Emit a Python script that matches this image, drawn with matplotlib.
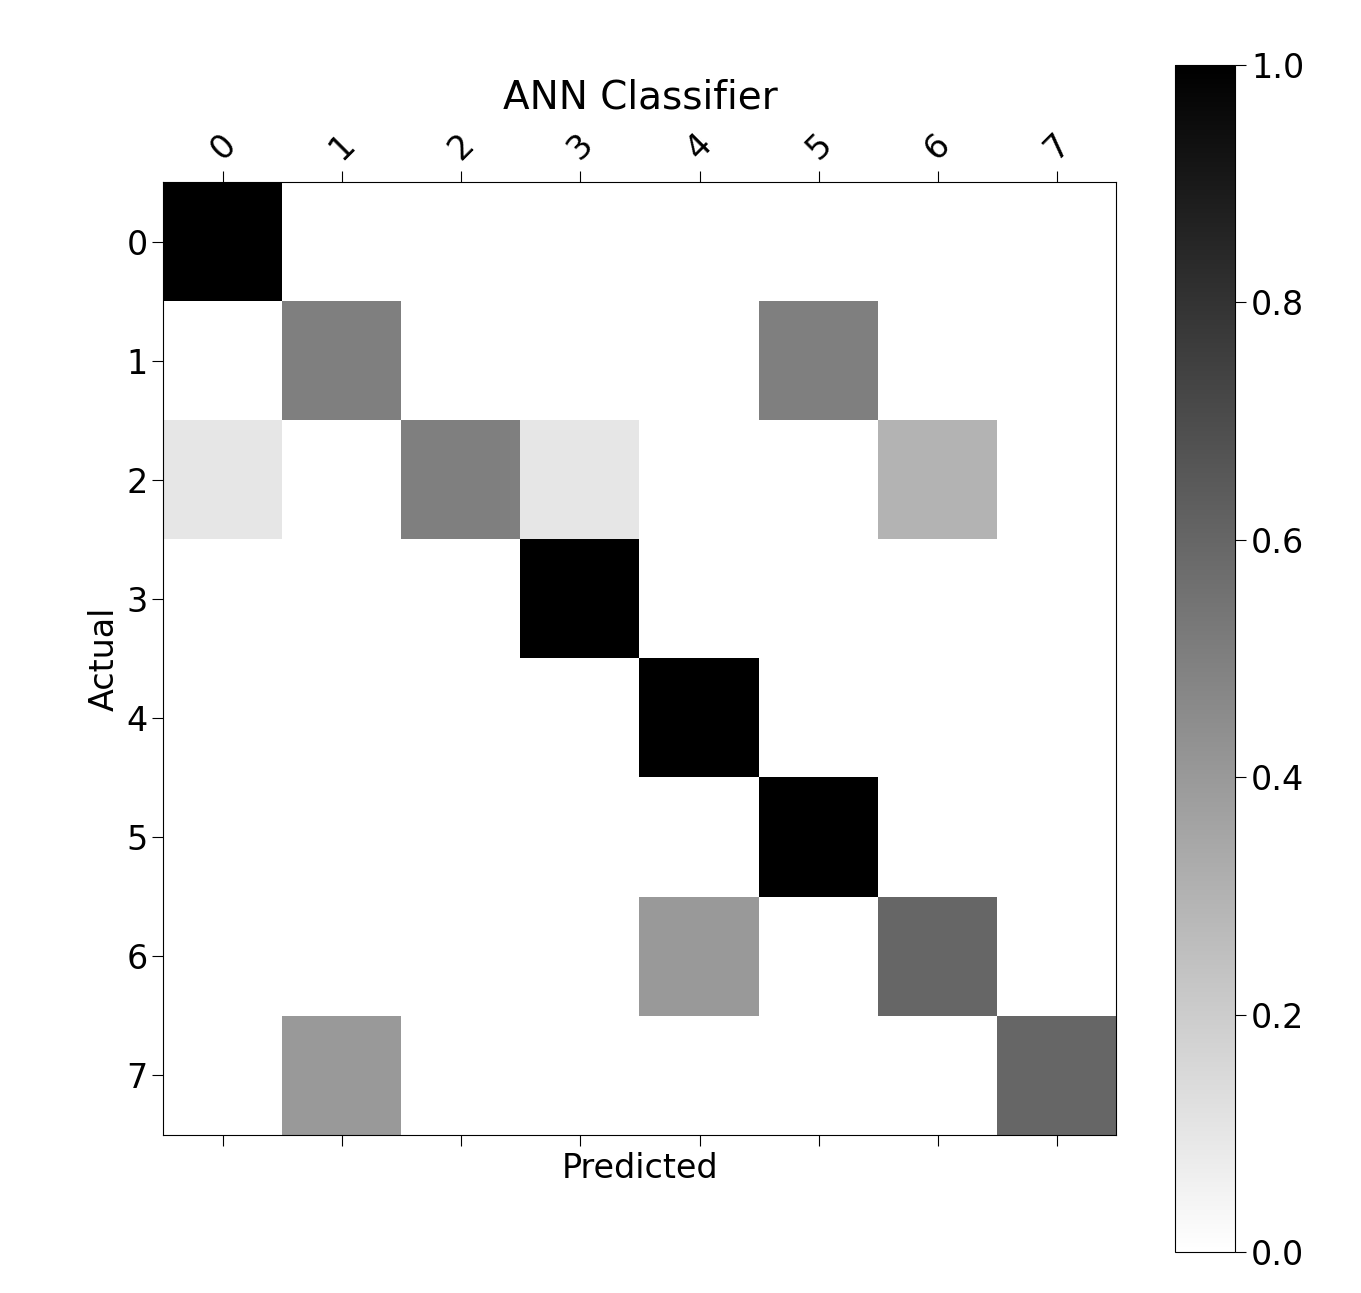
import numpy as np
import matplotlib.pyplot as plt

classes = [0, 1, 2, 3, 4, 5, 6, 7]
# normalised confusion matrix (rows = actual)
row0 = [1.0, 0, 0, 0, 0, 0, 0, 0]
row1 = [0, 0.5, 0, 0, 0, 0.5, 0, 0]
row2 = [0.1, 0, 0.5, 0.1, 0, 0, 0.3, 0]
row3 = [0, 0, 0, 1.0, 0, 0, 0, 0]
row4 = [0, 0, 0, 0, 1.0, 0, 0, 0]
row5 = [0, 0, 0, 0, 0, 1.0, 0, 0]
row6 = [0, 0, 0, 0, 0.4, 0, 0.6, 0]
row7 = [0, 0.4, 0, 0, 0, 0, 0, 0.6]
cm = np.array([row0, row1, row2, row3, row4, row5, row6, row7])

fig = plt.figure(figsize=(13.61, 12.93), dpi=100)
ax = fig.add_axes([163/1361, 1 - 1135/1293, 954/1361, 953/1293])
cax = fig.add_axes([1175/1361, 1 - 1252/1293, 60/1361, 1187/1293])

im = ax.imshow(cm, cmap="gray_r", vmin=0, vmax=1)
ax.set_xticks(range(len(classes)))
ax.set_yticks(range(len(classes)))
ax.set_xticklabels(classes, fontsize=24, rotation=45)
ax.set_yticklabels(classes, fontsize=24)
ax.tick_params(axis="x", top=True, labeltop=True, labelbottom=False, length=8)
ax.tick_params(axis="y", length=8)
ax.set_xlabel("Predicted", fontsize=24)
ax.set_ylabel("Actual", fontsize=24)
ax.set_title("ANN Classifier", fontsize=28, pad=14)

cb = fig.colorbar(im, cax=cax)
cb.ax.tick_params(labelsize=24, length=8)
cb.set_ticks([0, 0.2, 0.4, 0.6, 0.8, 1.0])

fig.savefig("out.png", dpi=100)
